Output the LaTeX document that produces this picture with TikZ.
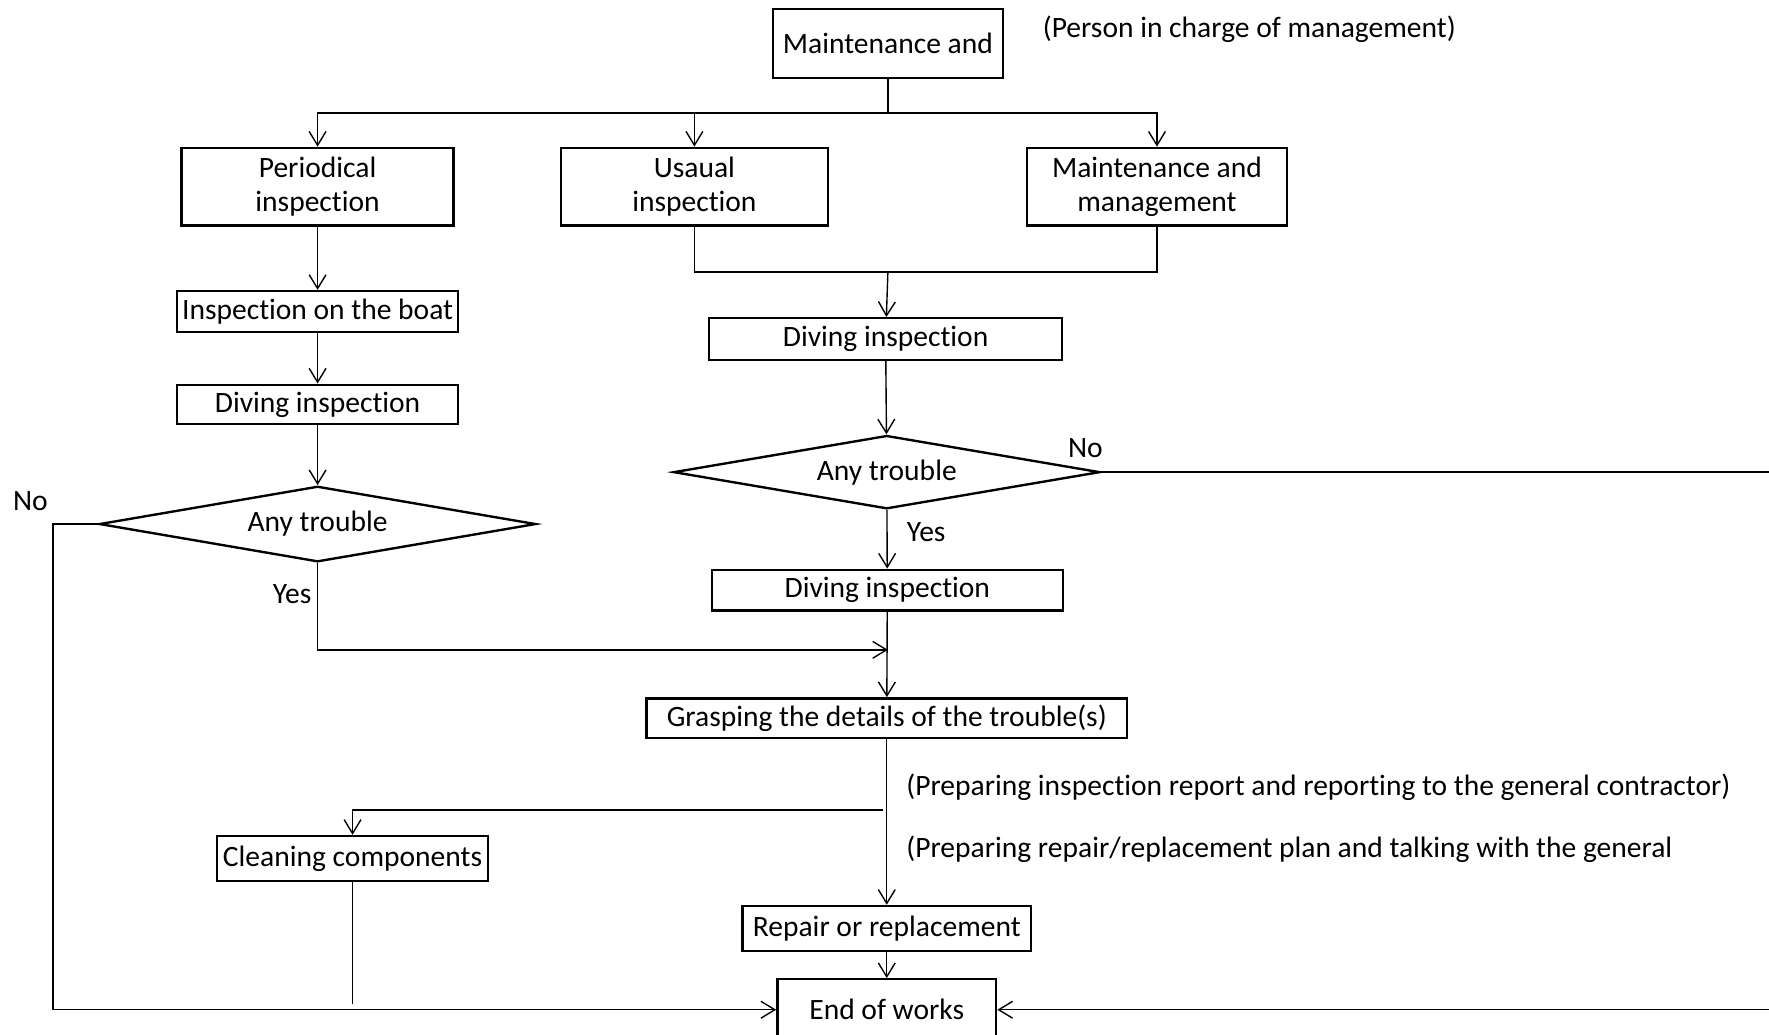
\documentclass[tikz,border=0pt]{standalone}
\usepackage{fontspec}
\setmainfont{Carlito}[Ligatures=NoCommon]
\usetikzlibrary{arrows.meta,shapes.geometric}
\tikzstyle{arrow} = [->, >={Straight Barb[length=7pt,width=8.5pt]}, line width=0.7pt]
\tikzstyle{line} = [line width=0.7pt]
\tikzstyle{process} = [rectangle, draw, line width=1.2pt, inner sep=0pt, align=center]
\tikzstyle{decision} = [diamond, draw, line width=1.2pt, inner sep=0pt, aspect=5.8]
\tikzstyle{note} = [anchor=west, inner sep=0pt]

\begin{document}
\begin{tikzpicture}[x=0.02cm, y=-0.02cm, font=\fontsize{14.9}{17}\selectfont]
\useasboundingbox (0,0) rectangle (1568,917);
\clip (0,0) rectangle (1568,917);

% Top of the chart
\node[process, minimum width=4.08cm, minimum height=1.22cm] (top) at (787,38.5) {Maintenance and};
\node[note] (person) at (924,26) {(Person in charge of management)};

% Three kinds of inspection
\node[process, minimum width=4.82cm, minimum height=1.38cm] (per) at (281.5,165.5) {Periodical\\inspection};
\node[process, minimum width=4.74cm, minimum height=1.38cm] (usu) at (615.5,165.5) {Usaual\\inspection};
\node[process, minimum width=4.62cm, minimum height=1.38cm] (mgt) at (1025.5,165.5) {Maintenance and\\management};

% Left branch
\node[process, minimum width=4.98cm, minimum height=0.72cm] (boat) at (281.5,276) {Inspection on the boat};
\node[process, minimum width=4.98cm, minimum height=0.70cm] (div1) at (281.5,358.5) {Diving inspection};
\node[decision, minimum width=7.74cm, minimum height=1.34cm] (ldia) at (281.5,464.5) {Any trouble};

% Centre branch
\node[process, minimum width=6.26cm, minimum height=0.74cm] (div2) at (785,300.5) {Diving inspection};
\node[decision, minimum width=7.56cm, minimum height=1.30cm] (rdia) at (786,418.5) {Any trouble};
\node[process, minimum width=6.22cm, minimum height=0.72cm] (div3) at (786.5,523) {Diving inspection};
\node[process, minimum width=8.52cm, minimum height=0.70cm] (grasp) at (786,636.5) {Grasping the details of the trouble(s)};
\node[process, minimum width=4.80cm, minimum height=0.80cm] (clean) at (312.5,761) {Cleaning components};
\node[process, minimum width=5.12cm, minimum height=0.80cm] (rep) at (786,823) {Repair or replacement};
\node[process, minimum width=3.88cm, minimum height=1.08cm] (end) at (786,895) {End of works};

% Notes and labels
\node[note] (rpt) at (803,698) {(Preparing inspection report and reporting to the general contractor)};
\node[note] (plan) at (803,753) {(Preparing repair/replacement plan and talking with the general};
\node (noR) at (962,397) {No};
\node (yesR) at (821,472) {Yes};
\node (noL) at (27,444) {No};
\node (yesL) at (259,527) {Yes};

% Junction points
\coordinate (split) at (787,100);
\coordinate (merge) at (787,241);
\coordinate (join) at (787,576);
\coordinate (branch) at (783,718);
\coordinate (leftturn) at (47,464.5);
\coordinate (rightturn) at (1600,418.5);
\coordinate (cleanfoot) at (312.5,890);

% Connectors
\draw[line] (top) -- (split);
\draw[arrow] (split) -| (per.north);
\draw[arrow] (split) -| (usu.north);
\draw[arrow] (split) -| (mgt.north);
\draw[line] (usu.south) |- (merge);
\draw[line] (mgt.south) |- (merge);
\draw[arrow] (merge) -- (div2);
\draw[arrow] (div2) -- (rdia);
\draw[arrow] (rdia) -- (div3);
\draw[arrow] (div3) -- (grasp);
\draw[arrow] (per) -- (boat);
\draw[arrow] (boat) -- (div1);
\draw[arrow] (div1) -- (ldia);
\draw[arrow] (ldia.south) |- (join);
\draw[arrow] (ldia.west) -- (leftturn) |- (end.west);
\draw[arrow] (rdia.east) -- (rightturn) |- (end.east);
\draw[arrow] (grasp) -- (rep);
\draw[arrow] (branch) -| (clean.north);
\draw[line] (clean) -- (cleanfoot);
\draw[arrow] (rep) -- (end);
\end{tikzpicture}
\end{document}
